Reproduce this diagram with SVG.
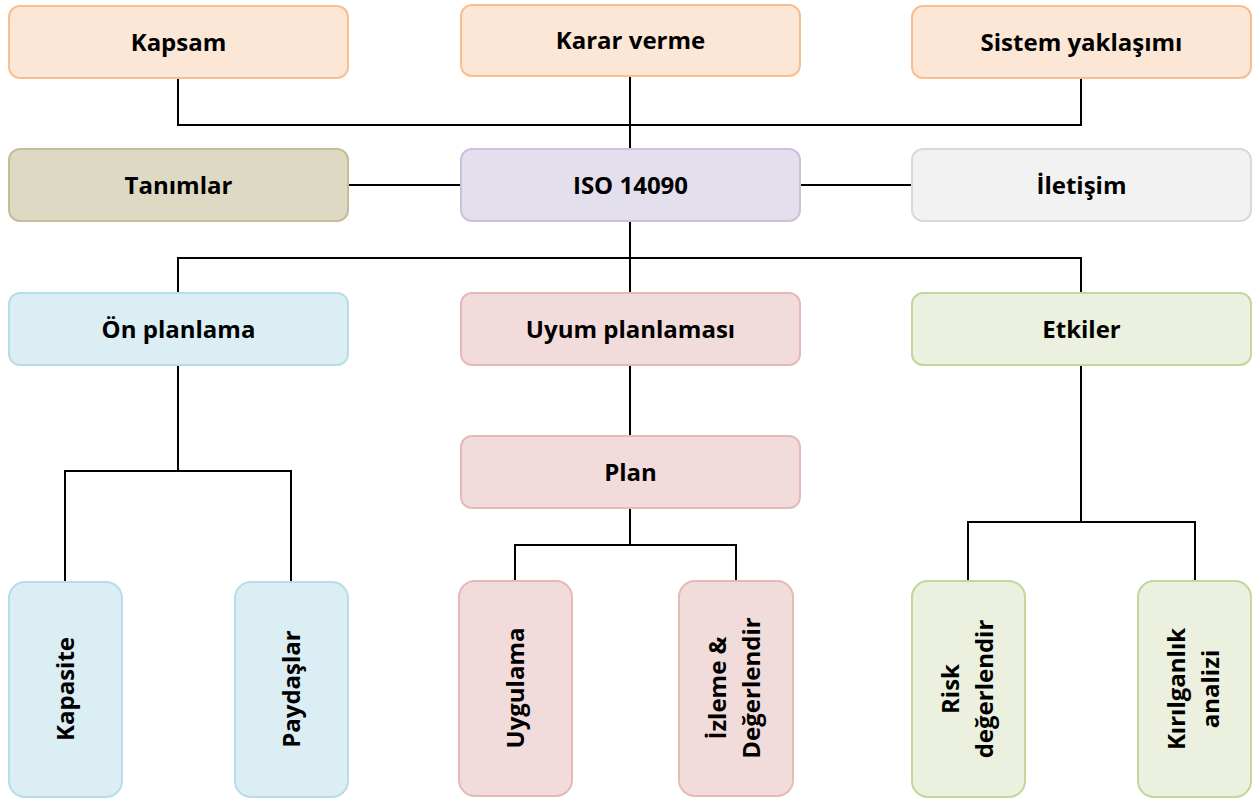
<svg xmlns="http://www.w3.org/2000/svg" width="1258" height="800" viewBox="0 0 1258 800">
<style>
  .box { stroke-width: 2; }
  .t { font-family: "Open Sans", "Liberation Sans", sans-serif; font-weight: 700; font-size: 24px; fill: #000; text-anchor: middle; }
  .orange { fill: #FCE7D6; stroke: #F9BE8F; }
  .khaki { fill: #DDD9C3; stroke: #C4BD97; }
  .purple { fill: #E4DFEC; stroke: #CCC0DA; }
  .gray { fill: #F2F2F2; stroke: #D9D9D9; }
  .blue { fill: #DAEEF3; stroke: #B7DEE8; }
  .red { fill: #F2DCDB; stroke: #E6B9B8; }
  .green { fill: #EBF1DE; stroke: #C3D69B; }
  .conn { fill: none; stroke: #000; stroke-width: 2; }
</style>
<rect width="1258" height="800" fill="#FFFFFF"/>
<g id="connectors" class="conn">
  <polyline points="178,78 178,125 1081,125 1081,78"/>
  <line x1="630" y1="76" x2="630" y2="149"/>
  <line x1="348" y1="185" x2="461" y2="185"/>
  <line x1="800" y1="185" x2="912" y2="185"/>
  <line x1="630" y1="221" x2="630" y2="293"/>
  <polyline points="178,293 178,258 1081,258 1081,293"/>
  <line x1="178" y1="365" x2="178" y2="471"/>
  <polyline points="65,582 65,471 291,471 291,582"/>
  <line x1="630" y1="365" x2="630" y2="436"/>
  <line x1="630" y1="508" x2="630" y2="545"/>
  <polyline points="515,581 515,545 736,545 736,581"/>
  <line x1="1081" y1="365" x2="1081" y2="522"/>
  <polyline points="968,581 968,522 1195,522 1195,581"/>
</g>
<g id="kapsam"><rect class="box orange" x="9" y="6" width="339" height="72" rx="11"/><text class="t" x="178.5" y="50.5">Kapsam</text></g>
<g id="karar-verme"><rect class="box orange" x="461" y="5" width="339" height="71" rx="11"/><text class="t" x="630.5" y="49">Karar verme</text></g>
<g id="sistem-yaklasimi"><rect class="box orange" x="912" y="6" width="339" height="72" rx="11"/><text class="t" x="1081.5" y="50.5">Sistem yaklaşımı</text></g>
<g id="tanimlar"><rect class="box khaki" x="9" y="149" width="339" height="72" rx="11"/><text class="t" x="178.5" y="193.5">Tanımlar</text></g>
<g id="iso"><rect class="box purple" x="461" y="149" width="339" height="72" rx="11"/><text class="t" x="630.5" y="193.5">ISO 14090</text></g>
<g id="iletisim"><rect class="box gray" x="912" y="149" width="339" height="72" rx="11"/><text class="t" x="1081.5" y="193.5">İletişim</text></g>
<g id="on-planlama"><rect class="box blue" x="9" y="293" width="339" height="72" rx="11"/><text class="t" x="178.5" y="337.5">Ön planlama</text></g>
<g id="uyum-planlamasi"><rect class="box red" x="461" y="293" width="339" height="72" rx="11"/><text class="t" x="630.5" y="337.5">Uyum planlaması</text></g>
<g id="etkiler"><rect class="box green" x="912" y="293" width="339" height="72" rx="11"/><text class="t" x="1081.5" y="337.5">Etkiler</text></g>
<g id="plan"><rect class="box red" x="461" y="436" width="339" height="72" rx="11"/><text class="t" x="630.5" y="480.5">Plan</text></g>
<g id="kapasite"><rect class="box blue" x="9" y="582" width="113" height="215" rx="16"/><text class="t" transform="translate(65.5,689) rotate(-90)" x="0" y="8.5">Kapasite</text></g>
<g id="paydaslar"><rect class="box blue" x="235" y="582" width="113" height="215" rx="16"/><text class="t" transform="translate(291.5,689) rotate(-90)" x="0" y="8.5">Paydaşlar</text></g>
<g id="uygulama"><rect class="box red" x="459" y="581" width="113" height="215" rx="16"/><text class="t" transform="translate(515.5,688) rotate(-90)" x="0" y="8.5">Uygulama</text></g>
<g id="izleme"><rect class="box red" x="679" y="581" width="114" height="215" rx="16"/><text class="t" transform="translate(736,688) rotate(-90)"><tspan x="0" y="-10">İzleme &amp;</tspan><tspan x="0" y="24">Değerlendir</tspan></text></g>
<g id="risk"><rect class="box green" x="912" y="581" width="113" height="216" rx="16"/><text class="t" transform="translate(968.5,689) rotate(-90)"><tspan x="0" y="-10">Risk</tspan><tspan x="0" y="24">değerlendir</tspan></text></g>
<g id="kirilganlik"><rect class="box green" x="1138" y="581" width="113" height="216" rx="16"/><text class="t" transform="translate(1194.5,689) rotate(-90)"><tspan x="0" y="-10">Kırılganlık</tspan><tspan x="0" y="24">analizi</tspan></text></g>
</svg>
